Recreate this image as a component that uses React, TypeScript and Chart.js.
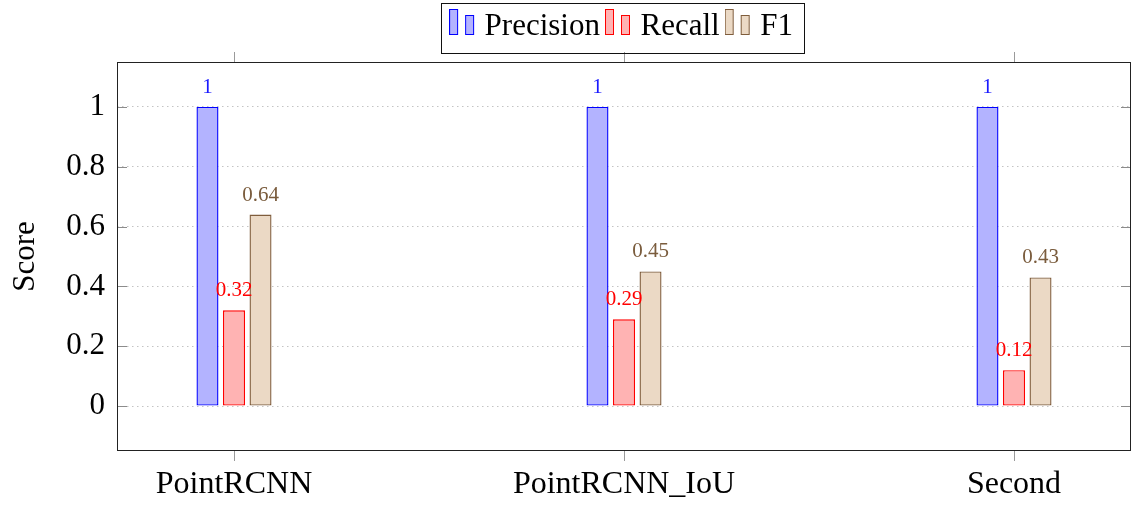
import React, { useEffect, useRef } from "react";
import { Chart, registerables } from "chart.js";

Chart.register(...registerables);

const categories = ["PointRCNN", "PointRCNN_IoU", "Second"];
const precision = [1, 1, 1];
const recall = [0.32, 0.29, 0.12];
const f1 = [0.64, 0.45, 0.43];
const seriesNames = ["Precision", "Recall", "F1"];
const yTicks = [0, 0.2, 0.4, 0.6, 0.8, 1];
const xTicks = [0, 1, 2];

const FONT = "'Liberation Serif', 'DejaVu Serif', serif";
const fills = ["#b3b3ff", "#ffb3b3", "#ebd9c5"];
const borders = ["#0000ff", "#ff0000", "#7f5d3c"];
const labelColors = ["#1a1aff", "#ff0000", "#7a5c3d"];

function makeIcon(fill: string, stroke: string): HTMLCanvasElement {
  const c = document.createElement("canvas");
  c.width = 26;
  c.height = 35;
  const ctx = c.getContext("2d")!;
  ctx.fillStyle = fill;
  ctx.strokeStyle = stroke;
  ctx.lineWidth = 1;
  ctx.fillRect(0.5, 0.5, 8, 25);
  ctx.strokeRect(0.5, 0.5, 8, 25);
  ctx.fillRect(16.5, 6.5, 8, 19);
  ctx.strokeRect(16.5, 6.5, 8, 19);
  return c;
}

const decorPlugin = {
  id: "decor",
  afterDatasetsDraw(chart: any) {
    const ctx = chart.ctx;
    const area = chart.chartArea;
    const y = chart.scales.y;
    ctx.save();
    // inward y ticks, both sides
    ctx.strokeStyle = "#8c8c8c";
    ctx.lineWidth = 1;
    yTicks.forEach((v) => {
      const py = Math.round(y.getPixelForValue(v)) + 0.5;
      ctx.beginPath();
      ctx.moveTo(area.left, py);
      ctx.lineTo(area.left + 10, py);
      ctx.moveTo(area.right, py);
      ctx.lineTo(area.right - 10, py);
      ctx.stroke();
    });
    // data labels
    ctx.font = `21px ${FONT}`;
    ctx.textAlign = "center";
    ctx.textBaseline = "alphabetic";
    chart.data.datasets.forEach((ds: any, i: number) => {
      const meta = chart.getDatasetMeta(i);
      meta.data.forEach((bar: any, j: number) => {
        const v = ds.data[j].y;
        ctx.fillStyle = labelColors[i];
        ctx.fillText(String(v), bar.x, bar.y - 14);
      });
    });
    // axis frame
    ctx.strokeStyle = "#222";
    ctx.lineWidth = 1;
    ctx.strokeRect(
      Math.round(area.left) + 0.5,
      Math.round(area.top) + 0.5,
      Math.round(area.right - area.left) - 1,
      Math.round(area.bottom - area.top) - 1
    );
    // legend frame
    const lg = chart.legend;
    if (lg && lg.legendHitBoxes && lg.legendHitBoxes.length) {
      const hb = lg.legendHitBoxes;
      const first = hb[0];
      const last = hb[hb.length - 1];
      const left = first.left - 14;
      const right = last.left + last.width + 11;
      const top = first.top - 8;
      const bottom = first.top + first.height + 11;
      ctx.strokeStyle = "#111";
      ctx.strokeRect(Math.round(left) + 0.5, Math.round(top) + 0.5, Math.round(right - left), Math.round(bottom - top));
    }
    ctx.restore();
  },
};

export default function App() {
  const ref = useRef<HTMLCanvasElement | null>(null);

  useEffect(() => {
    document.body.style.margin = "0";
    const icons = fills.map((f, i) => makeIcon(f, borders[i]));
    const values = [precision, recall, f1];
    const xGrid = {
      display: true,
      drawOnChartArea: false,
      drawTicks: true,
      offset: false,
      tickLength: 10,
      tickColor: "#9a9a9a",
      color: "#9a9a9a",
    };
    const chart = new Chart(ref.current!, {
      type: "bar",
      data: {
        datasets: values.map((arr, i) => ({
          label: seriesNames[i],
          data: arr.map((v, j) => ({ x: xTicks[j], y: v })),
          backgroundColor: fills[i],
          borderColor: borders[i],
          borderWidth: 1.4,
          borderSkipped: false,
          categoryPercentage: 0.204,
          barPercentage: 0.83,
          xAxisID: "x",
        })),
      },
      options: {
        animation: false,
        responsive: false,
        events: [],
        layout: { padding: { top: 0, right: 2, bottom: 0, left: 0 } },
        plugins: {
          tooltip: { enabled: false },
          legend: {
            display: true,
            position: "top",
            fullSize: false,
            labels: {
              usePointStyle: true,
              boxWidth: 14,
              padding: 11,
              color: "#000",
              font: { family: FONT, size: 31 },
              generateLabels: () =>
                seriesNames.map((n, i) => ({
                  text: n,
                  pointStyle: icons[i],
                  fillStyle: fills[i],
                  strokeStyle: borders[i],
                  lineWidth: 0,
                  hidden: false,
                  datasetIndex: i,
                  fontColor: "#000",
                })),
            },
          },
        },
        scales: {
          x: {
            type: "linear",
            position: "bottom",
            offset: false,
            min: -0.3,
            max: 2.3,
            afterBuildTicks: (s: any) => {
              s.ticks = xTicks.map((v) => ({ value: v }));
            },
            afterFit: (s: any) => {
              s.height = 54;
            },
            grid: xGrid,
            border: { display: false },
            ticks: {
              padding: 4,
              color: "#000",
              font: { family: FONT, size: 32 },
              maxRotation: 0,
              autoSkip: false,
              callback: (v: any) => categories[Math.round(Number(v))] ?? "",
            },
          },
          x2: {
            type: "linear",
            position: "top",
            offset: false,
            min: -0.3,
            max: 2.3,
            afterBuildTicks: (s: any) => {
              s.ticks = xTicks.map((v) => ({ value: v }));
            },
            afterFit: (s: any) => {
              s.height = 10;
            },
            grid: xGrid,
            border: { display: false },
            ticks: { display: false },
          },
          y: {
            type: "linear",
            min: -0.15,
            max: 1.15,
            afterBuildTicks: (s: any) => {
              s.ticks = yTicks.map((v) => ({ value: v }));
            },
            afterFit: (s: any) => {
              s.width = 117;
            },
            grid: {
              display: true,
              drawTicks: false,
              color: "#c4c4c4",
              lineWidth: 1,
            },
            border: { display: false, dash: [1.5, 3.5] },
            ticks: {
              padding: 12,
              color: "#000",
              font: { family: FONT, size: 31 },
              callback: (v: any) => String(v),
            },
            title: {
              display: true,
              text: "Score",
              color: "#000",
              font: { family: FONT, size: 31 },
              padding: { top: 7, bottom: 0 },
            },
          },
        },
      },
      plugins: [decorPlugin],
    } as any);
    return () => chart.destroy();
  }, []);

  return (
    <div style={{ width: 1133, height: 505 }}>
      <canvas ref={ref} width={1133} height={505} style={{ display: "block" }} />
    </div>
  );
}
